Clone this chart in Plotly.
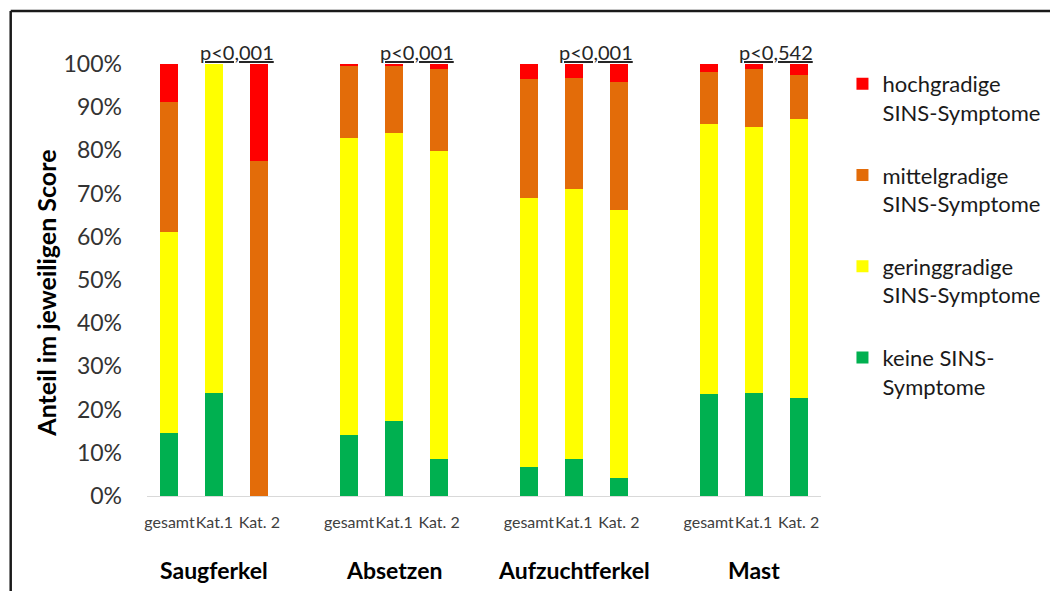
import plotly.graph_objects as go

# Production stages and the sub-groups shown within each stage
groups = ["Saugferkel", "Absetzen", "Aufzuchtferkel", "Mast"]
subgroups = ["gesamt", "Kat.1", "Kat. 2"]
p_values = ["p<0,001", "p<0,001", "p<0,001", "p<0,542"]

# Share (%) of each score, order: per stage gesamt, Kat.1, Kat. 2
keine = [14.7, 23.8, 0.0, 14.1, 17.4, 8.5, 6.6, 8.5, 4.2, 23.5, 23.9, 22.7]
gering = [46.4, 76.2, 0.0, 68.7, 66.6, 71.4, 62.3, 62.5, 61.9, 62.5, 61.6, 64.6]
mittel = [30.2, 0.0, 77.5, 16.7, 15.7, 18.9, 27.6, 25.7, 29.8, 12.2, 13.3, 10.2]
hoch = [8.7, 0.0, 22.5, 0.5, 0.3, 1.2, 3.5, 3.3, 4.1, 1.8, 1.2, 2.5]

y_ticks = [0, 10, 20, 30, 40, 50, 60, 70, 80, 90, 100]

series = [
    ("keine SINS-<br>Symptome", keine, "#00B050"),
    ("geringgradige<br>SINS-Symptome", gering, "#FFFF00"),
    ("mittelgradige<br>SINS-Symptome", mittel, "#E36C09"),
    ("hochgradige<br>SINS-Symptome", hoch, "#FF0000"),
]

# one empty slot between stages
slot = len(subgroups) + 1
xpos = [g * slot + s for g in range(len(groups)) for s in range(len(subgroups))]
xlabels = [s for _ in groups for s in subgroups]

fig = go.Figure()
for i, (name, vals, color) in enumerate(series):
    fig.add_trace(go.Bar(
        x=xpos, y=vals, name=name, width=0.4,
        marker=dict(color=color, line=dict(width=0)),
        legendgroup=f"g{i}", legendrank=len(series) - i,
    ))

# plot area geometry in pixels
L, R, T, B = 146.5, 228.5, 64, 95
W, H = 1050, 591
pw, ph = W - L - R, H - T - B


def px_x(x):
    return (x - L) / pw


def px_y(y):
    return (H - B - y) / ph


annotations = []
for g, (grp, p) in enumerate(zip(groups, p_values)):
    centre = g * slot + (len(subgroups) - 1) / 2
    annotations.append(dict(
        x=centre, y=px_y(570), xref="x", yref="paper", text=f"<b>{grp}</b>",
        showarrow=False, font=dict(size=23, color="#000000"),
        xanchor="center", yanchor="middle",
    ))
    annotations.append(dict(
        x=g * slot + 1.5, y=px_y(52), xref="x", yref="paper",
        text=f"<u>{p}</u>", showarrow=False,
        font=dict(size=20, color="#262626"), xanchor="center", yanchor="middle",
    ))

annotations.append(dict(
    x=px_x(45), y=px_y(293), xref="paper", yref="paper",
    text="<b>Anteil im jeweiligen Score</b>", textangle=-90, showarrow=False,
    font=dict(size=25, color="#000000"), xanchor="center", yanchor="middle",
))

shapes = [
    dict(type="line", xref="paper", yref="paper", x0=px_x(10), x1=px_x(1060),
         y0=px_y(11), y1=px_y(11), line=dict(color="#1a1a1a", width=2.5)),
    dict(type="line", xref="paper", yref="paper", x0=px_x(10), x1=px_x(10),
         y0=px_y(11), y1=px_y(600), line=dict(color="#1a1a1a", width=2.5)),
]

fig.update_layout(
    width=W, height=H,
    margin=dict(l=L, r=R, t=T, b=B, pad=0, autoexpand=False),
    paper_bgcolor="white", plot_bgcolor="white",
    font=dict(family="Lato, sans-serif", color="#262626"),
    barmode="stack", bargap=0,
    showlegend=True,
    legend=dict(
        x=px_x(843), y=px_y(63), xanchor="left", yanchor="top",
        traceorder="grouped", tracegroupgap=31, valign="top", maxheight=520,
        font=dict(size=22, color="#1a1a1a"), bgcolor="rgba(0,0,0,0)",
    ),
    xaxis=dict(
        range=[-0.5, len(groups) * slot - 1.5],
        tickmode="array", tickvals=xpos, ticktext=xlabels, tickangle=0,
        tickfont=dict(size=16, color="#404040"), automargin=False,
        showline=True, linecolor="#d9d9d9", linewidth=1,
        showgrid=False, zeroline=False, ticks="", ticklabelstandoff=12,
    ),
    yaxis=dict(
        range=[0, 100], tickmode="array", tickvals=y_ticks,
        ticktext=[f"{v}%" for v in y_ticks], automargin=False,
        tickfont=dict(size=23, color="#333333"),
        showline=False, showgrid=False, zeroline=False, ticks="",
        ticklabelstandoff=24,
    ),
    annotations=annotations,
    shapes=shapes,
)

fig.write_html("out.html")
